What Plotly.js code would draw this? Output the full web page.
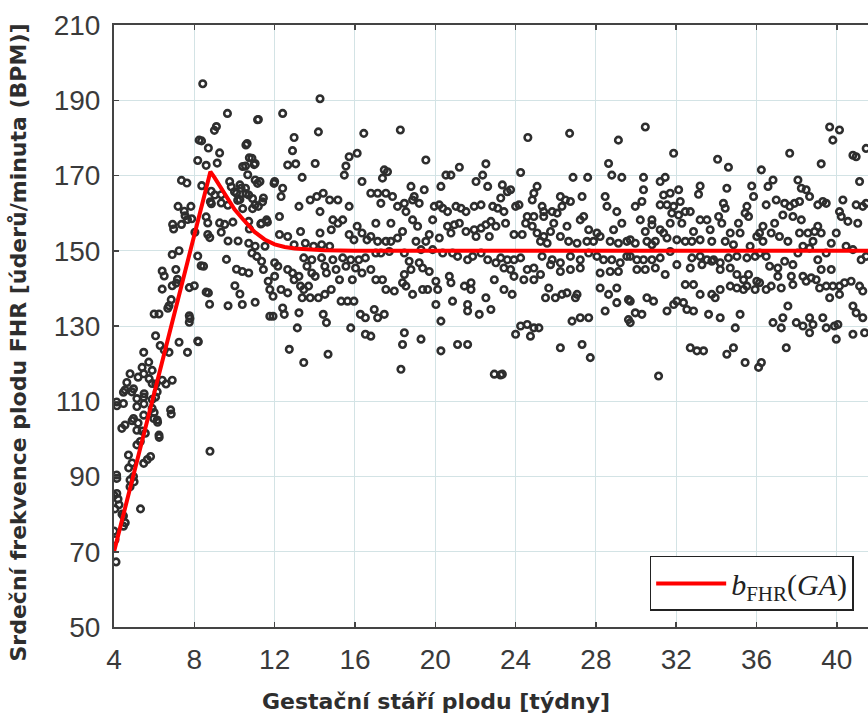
<!DOCTYPE html>
<html>
<head>
<meta charset="utf-8">
<script src="https://cdn.plot.ly/plotly-3.0.1.min.js"></script>
<style>html,body{margin:0;padding:0;background:#fff}#chart{width:868px;height:715px}</style>
</head>
<body>
<div id="chart"></div>
<script>
// [gestational age (weeks), FHR (bpm)] pairs
const ptsEarly = [
[8.42,194.4],[9.65,186.5],[9.10,183.0],[9.00,182.0],[8.24,179.4],[8.70,177.3],[9.26,176.0],[8.17,174.0],[8.59,172.7],[9.14,173.3],
[7.36,168.7],[7.63,168.0],[8.37,167.3],[8.84,165.8],[8.80,163.0],[9.34,164.9],[9.34,162.7],[7.19,161.8],[7.83,161.8],[7.50,160.5],
[6.92,157.0],[7.36,157.0],[7.66,158.3],[8.67,157.4],[8.59,159.0],[8.67,154.3],[9.26,157.4],[9.51,157.0],[9.68,152.6],[10.18,152.6],
[6.90,149.0],[7.24,150.0],[8.17,148.6],[8.34,146.0],[6.40,144.6],[6.50,143.3],[7.08,145.0],[7.16,142.4],[6.40,139.8],[6.90,140.7],
[7.75,140.2],[8.00,140.7],[8.59,139.0],[8.76,135.8],[9.68,135.4],[6.74,135.4],[6.00,133.2],[6.24,133.2],[7.75,132.7],[7.75,131.0],
[8.17,126.0],[7.66,123.0],[7.24,125.7],[6.07,127.4],[6.30,124.8],[6.74,123.0],[5.48,123.0],[5.73,120.4],[5.40,119.0],[5.90,118.2],
[5.48,117.3],[5.20,116.4],[4.80,117.3],[4.64,115.0],[4.55,113.0],[4.97,113.3],[4.89,112.5],[6.40,115.6],[6.90,115.6],[5.90,114.7],
[6.15,112.5],[6.07,111.1],[4.13,109.8],[4.47,109.4],[5.14,110.7],[5.48,111.1],[6.82,107.7],[5.14,108.6],[5.90,108.1],[5.48,106.3],
[5.98,105.4],[6.15,105.0],[4.97,105.4],[4.55,103.7],[4.39,102.8],[5.14,102.3],[5.56,101.5],[6.24,101.0],[5.31,99.3],[5.14,98.4],
[8.78,96.7],[4.72,95.7],[5.82,95.3],[5.48,93.5],[9.60,147.7],[10.10,145.1],[10.02,140.7],[10.27,138.5],[9.76,168.4],[10.27,167.5],
[10.10,165.3],[10.27,163.6],[7.10,141.4],[6.85,137.0],[6.68,134.7],[8.46,145.9],[8.70,138.8],[7.78,132.0],[8.20,125.8],[6.50,123.6],
[5.75,116.0],[6.59,114.6],[4.47,112.4],[5.50,112.0],[5.90,110.5],[6.08,114.6],[4.14,108.8],[5.49,109.3],[6.00,107.0],[6.85,106.6],
[4.90,104.8],[5.20,104.2],[5.40,102.1],[6.17,104.4],[6.25,100.4],[8.36,179.2],[9.84,167.0],[10.00,165.7],[10.33,166.6],[10.57,165.2],
[10.16,163.4],[9.02,164.8],[9.67,162.1],[8.85,162.5],[7.54,159.3],[7.87,158.5],[6.97,155.8],[8.03,154.9],[8.77,153.5],[9.34,154.9],
[9.92,157.6],[4.14,89.5],[4.90,93.6],[4.73,92.3],[5.66,94.5],[5.00,88.6],[4.80,87.3],[4.00,85.0],[4.14,85.5],[4.20,84.0],
[4.05,81.4],[4.47,79.5],[4.56,77.7],[4.47,76.8],[4.00,75.5],[4.05,73.2],[5.32,81.4],[4.10,67.3],[4.25,82.5],[4.40,80.0],
[4.13,90.4],[4.97,90.0],[4.80,89.1]
];
const ptsWeeks10to17 = [
[11.15,184.8],[10.57,178.1],[10.74,174.7],[10.98,172.9],[10.41,172.4],[10.66,170.2],[11.15,167.9],[11.97,167.9],[10.90,163.9],[11.40,163.0],
[10.90,161.2],[10.41,161.2],[10.74,155.8],[11.31,157.1],[11.64,157.6],
[14.26,190.4],[12.40,186.5],[11.19,184.9],[14.18,181.6],[12.97,180.1],[16.44,181.2],[10.63,178.5],[12.89,176.6],[10.87,174.6],[11.03,173.2],
[10.55,172.5],[12.65,172.8],[13.05,173.1],[14.02,173.2],[15.71,175.0],[16.11,175.9],[15.55,172.5],[15.47,170.1],[13.37,169.5],[12.00,168.4],
[12.40,166.6],[11.03,168.8],[11.27,168.4],[10.55,166.6],[10.71,164.8],[12.32,164.4],[11.44,164.0],[11.03,162.2],[11.19,161.8],[16.35,168.4],
[13.77,163.5],[14.10,164.4],[14.42,165.3],[14.74,163.5],[15.15,163.5],[13.21,161.8],[14.26,160.4],[15.71,161.8],[12.24,159.1],[11.35,157.3],
[11.60,158.2],[10.71,157.8],[14.90,158.2],[15.15,157.3],[15.39,158.2],[14.82,155.6],[13.29,155.1],[12.24,154.3],[12.65,153.8],[14.26,154.7],
[16.11,156.5],[16.35,154.7],[15.71,154.3],[15.95,152.9],[16.60,152.9],[10.71,152.0],[11.03,151.2],[11.52,151.2],[12.97,151.6],[13.53,152.0],
[13.94,151.2],[14.34,151.6],[14.74,151.2],[13.45,148.1],[13.85,147.6],[14.34,148.1],[14.90,147.6],[15.39,148.1],[15.79,147.6],[16.19,147.6],
[16.52,148.1],[11.35,147.2],[11.11,148.5],[10.87,149.4],[10.71,144.1],[10.39,144.5],[11.44,145.0],[12.00,146.8],[12.16,145.9],[12.65,145.0],
[12.89,144.1],[13.21,143.2],[12.00,143.2],[11.68,141.9],[13.61,145.9],[13.85,144.1],[14.02,143.2],[14.58,144.1],[15.06,145.0],[15.55,145.9],
[16.03,145.4],[16.35,144.1],[15.23,142.3],[15.87,142.3],[14.50,145.9],[11.76,139.7],[11.92,137.9],[12.32,139.7],[12.65,138.8],[12.97,142.3],
[13.29,140.6],[13.45,139.7],[13.69,140.6],[13.37,137.5],[13.77,137.5],[14.18,137.5],[14.50,138.4],[14.82,139.7],[15.31,136.6],[15.63,136.6],
[15.95,136.6],[10.39,135.7],[11.03,136.3],[12.40,134.8],[12.48,133.1],[11.76,132.6],[11.92,132.6],[13.21,133.5],[14.42,133.1],[14.58,130.9],
[16.27,133.1],[16.52,132.2],[13.13,129.5],[15.79,129.5],[16.52,127.8],[12.73,123.8],[13.45,120.3],[14.66,122.5]
];
const ptsWeeks17to23 = [
[18.26,182.1],[19.53,174.1],[21.20,172.2],[22.52,173.1],[17.46,171.5],[17.62,171.0],[17.37,169.3],[20.53,170.1],[20.78,170.1],[22.03,168.4],
[22.36,170.1],[22.61,167.1],[16.79,165.3],[17.13,165.3],[17.54,165.3],[17.87,164.4],[17.29,162.6],[18.79,167.1],[19.45,166.2],[20.28,167.1],
[18.95,164.4],[18.87,163.5],[19.20,162.6],[18.46,162.6],[18.12,161.8],[18.54,160.4],[19.95,161.8],[20.20,162.2],[20.37,161.3],[20.61,160.4],
[21.03,161.8],[21.28,161.3],[21.53,160.4],[21.94,161.8],[22.28,162.2],[22.86,161.8],[23.11,161.3],[17.04,157.3],[17.79,157.3],[18.37,155.1],
[18.87,158.2],[19.12,156.5],[19.87,158.2],[20.61,156.5],[20.95,156.9],[21.20,157.3],[21.53,155.1],[21.94,155.6],[22.28,156.0],[22.52,156.9],
[23.02,156.5],[22.77,157.8],[16.79,153.8],[17.13,152.5],[17.54,152.5],[17.79,152.5],[18.12,153.4],[19.04,152.5],[19.53,152.5],[19.70,154.3],
[20.20,153.4],[20.78,154.7],[22.03,153.8],[22.69,153.8],[17.04,149.4],[17.29,149.4],[17.71,149.8],[18.46,149.4],[19.29,150.3],[19.87,150.3],
[20.37,149.4],[20.86,149.4],[21.11,148.5],[21.61,147.6],[21.86,148.5],[22.28,149.4],[22.61,147.6],[23.02,146.8],[18.70,147.2],[19.20,146.8],
[19.37,145.4],[19.70,144.5],[18.79,145.0],[18.46,143.7],[16.79,145.0],[17.04,142.3],[17.37,142.3],[17.54,139.7],[17.96,139.3],[18.37,141.5],
[18.54,140.6],[19.37,139.7],[19.62,139.7],[20.03,141.9],[20.12,139.7],[20.78,141.5],[20.70,143.2],[21.45,140.6],[21.78,139.7],[21.78,141.5],
[18.87,138.4],[20.03,135.7],[20.86,136.6],[21.61,135.7],[21.61,134.0],[22.19,133.1],[22.52,137.5],[22.77,134.4],[22.94,142.3],[16.96,134.4],
[17.13,132.2],[17.46,133.1],[20.28,131.3],[16.79,127.3],[18.46,128.2],[18.37,125.1],[19.29,126.5],[20.28,123.4],[21.11,125.1],[21.61,125.1],
[18.29,118.5],[22.94,117.2],[23.25,117.0]
];
const ptsWeeks23to30 = [
[24.61,180.1],[26.69,181.2],[29.12,179.4],[24.25,170.8],[28.63,173.2],[28.79,170.1],[29.29,169.5],[26.86,169.5],[27.59,169.5],[23.34,167.5],
[23.59,165.7],[23.75,166.2],[23.26,164.0],[25.07,167.1],[24.91,165.3],[24.83,163.5],[24.00,161.8],[24.17,162.2],[25.32,161.8],[26.23,164.4],
[26.48,163.5],[26.73,163.1],[27.31,164.4],[28.46,164.4],[28.55,161.8],[29.04,160.4],[23.42,160.4],[24.58,159.1],[24.91,159.1],[25.40,160.4],
[25.82,160.4],[26.07,160.0],[26.31,161.8],[23.50,157.3],[24.50,157.3],[24.83,156.5],[25.40,159.1],[25.90,157.3],[26.56,156.5],[27.22,158.2],
[27.39,159.1],[27.64,155.6],[28.05,154.7],[28.21,153.8],[28.88,155.6],[29.29,157.3],[23.92,154.3],[24.33,154.3],[25.07,154.7],[25.40,153.8],
[25.74,155.1],[26.23,153.8],[25.24,152.5],[25.57,152.0],[26.64,152.5],[27.06,152.0],[27.55,152.5],[27.88,152.5],[28.71,152.5],[29.12,152.0],
[29.54,152.5],[23.26,148.1],[23.59,147.6],[23.92,147.6],[24.25,148.1],[24.58,145.0],[24.91,145.4],[23.75,145.0],[23.42,145.4],[25.32,148.5],
[25.82,147.6],[26.23,146.8],[26.73,148.5],[27.22,147.6],[27.64,149.4],[28.05,148.5],[28.38,147.6],[28.79,147.6],[29.21,146.8],[29.54,148.5],
[23.92,143.2],[24.41,142.3],[24.91,142.3],[25.24,143.7],[25.74,146.3],[26.23,144.5],[26.73,145.0],[27.22,145.4],[28.21,144.1],[28.71,144.5],
[29.12,144.5],[23.42,139.7],[23.83,138.4],[25.49,137.5],[25.65,140.1],[25.98,137.5],[26.31,138.4],[26.56,138.8],[27.06,138.4],[26.98,137.5],
[28.21,140.1],[28.63,138.4],[29.04,140.1],[29.04,136.2],[29.62,137.0],[28.46,134.0],[26.81,131.3],[27.22,132.2],[27.64,132.2],[24.25,130.0],
[24.58,130.4],[24.91,129.5],[25.16,129.5],[24.00,127.8],[24.74,127.3],[26.23,124.2],[27.31,125.1],[27.72,121.6],[23.34,117.2],[29.62,131.7]
];
const ptsWeeks30to36 = [
[30.46,182.9],[31.87,175.9],[34.06,174.3],[34.60,172.2],[30.37,169.5],[31.45,169.5],[31.20,168.4],[30.37,166.2],[32.12,166.2],[33.19,167.2],
[33.11,165.0],[34.52,166.6],[35.76,167.2],[35.85,164.4],[29.96,161.8],[30.29,163.1],[31.20,162.2],[31.54,162.2],[31.37,164.8],[31.70,165.3],
[31.87,161.8],[32.20,163.1],[31.78,160.0],[32.12,159.5],[32.45,160.4],[32.70,160.4],[31.70,157.3],[32.28,157.3],[30.21,158.2],[30.79,158.2],
[30.79,156.9],[34.35,162.6],[34.44,161.3],[35.52,161.8],[35.60,159.1],[35.43,160.0],[30.46,155.1],[31.20,155.6],[31.37,154.7],[31.54,153.4],
[32.03,152.9],[32.45,152.5],[32.86,155.1],[33.19,158.2],[33.53,158.2],[33.69,155.6],[34.11,159.1],[34.27,157.3],[35.10,157.3],[34.69,154.7],
[35.18,154.7],[36.01,153.8],[29.71,152.9],[29.96,152.0],[30.54,152.5],[30.79,151.6],[30.96,152.5],[31.70,149.8],[32.78,152.5],[33.19,152.9],
[33.77,152.5],[34.44,152.5],[34.85,151.6],[35.68,151.2],[29.71,148.5],[30.04,147.6],[30.37,147.6],[30.79,147.6],[31.20,148.1],[30.04,145.0],
[30.46,145.0],[30.96,145.4],[31.45,143.7],[32.03,146.3],[32.78,148.1],[33.19,148.5],[33.53,147.6],[33.86,147.6],[34.19,146.8],[34.60,148.1],
[35.02,148.5],[35.52,148.1],[35.93,148.5],[32.70,145.4],[33.28,146.3],[33.77,147.2],[34.19,145.0],[34.69,145.4],[35.02,143.7],[35.35,142.3],
[35.60,143.7],[34.19,139.7],[34.69,140.6],[35.02,140.1],[35.35,139.7],[35.52,140.6],[35.93,139.7],[36.01,141.9],[32.45,141.0],[32.86,141.0],
[33.19,138.4],[33.77,138.4],[33.94,137.5],[32.03,136.6],[31.87,135.7],[32.36,136.2],[32.53,134.4],[32.86,134.0],[29.71,136.6],[30.54,137.5],
[30.87,136.6],[31.54,134.0],[29.96,133.5],[30.29,133.1],[29.71,130.9],[33.61,133.1],[34.19,132.2],[35.18,133.1],[34.94,129.5],[32.70,124.2],
[33.03,123.4],[33.36,123.4],[34.52,122.5],[34.85,124.2],[35.43,120.3],[36.10,119.0],[31.12,116.7]
];
const ptsWeeks36to42 = [
[39.64,182.9],[40.13,182.1],[39.80,179.4],[37.65,175.9],[39.22,173.1],[40.96,175.0],[40.80,175.4],[41.46,177.2],[36.24,171.5],[36.57,167.1],
[36.82,168.8],[38.06,168.8],[38.23,166.6],[38.47,166.2],[38.64,164.4],[41.13,168.4],[36.48,162.2],[36.98,163.5],[37.40,162.6],[37.65,161.8],
[37.89,162.6],[38.14,163.1],[39.05,162.2],[39.30,163.1],[39.47,162.6],[40.30,163.5],[40.96,162.2],[41.29,161.8],[37.31,159.5],[37.81,159.1],
[38.23,158.2],[36.90,157.3],[36.32,156.5],[36.15,154.7],[36.32,152.5],[40.13,160.4],[40.22,159.1],[40.55,157.8],[41.04,157.3],[41.46,162.6],
[36.73,154.7],[37.14,153.8],[37.56,152.5],[38.14,154.7],[38.56,154.7],[38.89,155.1],[39.05,156.5],[38.81,152.5],[39.22,154.7],[39.97,154.7],
[39.72,152.0],[36.15,149.4],[36.48,148.5],[36.65,145.9],[37.06,145.4],[37.40,147.2],[37.81,146.3],[38.06,149.4],[38.31,151.2],[38.64,150.7],
[39.47,149.4],[40.46,151.2],[40.80,150.3],[41.21,147.6],[41.46,148.5],[39.05,147.6],[39.22,145.0],[39.72,145.0],[36.15,141.5],[36.48,139.7],
[36.73,140.6],[37.06,143.2],[37.23,140.1],[37.73,143.2],[37.81,141.0],[38.31,143.2],[38.47,141.9],[38.72,142.8],[38.97,142.3],[39.14,140.1],
[39.47,140.6],[39.64,137.5],[39.80,140.6],[40.13,140.6],[40.38,141.5],[40.71,141.9],[41.13,140.6],[41.29,139.3],[40.13,138.4],[37.56,135.3],
[40.80,135.3],[40.96,133.5],[41.29,132.2],[36.82,130.9],[37.31,132.2],[37.23,129.5],[37.98,130.9],[38.31,130.0],[38.64,132.2],[38.81,130.4],
[38.64,128.2],[39.30,132.2],[39.47,129.5],[39.88,130.0],[40.05,130.4],[39.97,126.5],[40.80,127.8],[41.38,128.2],[37.48,124.2],[36.24,120.3]
];
// fitted baseline b_FHR(GA)
const curveGA  = [4, 5, 6, 7, 8, 8.8, 9.0, 9.5, 10.0, 10.4, 11.0, 11.5, 12.0, 12.5, 13.0, 13.6, 14.5, 16, 20, 30, 42];
const curveFHR = [70, 91, 112, 133, 154, 171, 169.5, 165, 161, 158.5, 155, 153, 151.7, 151, 150.6, 150.4, 150.1, 150, 150, 150, 150];
const xTicks = [4, 8, 12, 16, 20, 24, 28, 32, 36, 40];
const yTicks = [50, 70, 90, 110, 130, 150, 170, 190, 210];
const xTitle = 'Gestační stáří plodu [týdny]';
const yTitle = 'Srdeční frekvence plodu FHR [úderů/minuta (BPM)]';

const allPts = [].concat(ptsEarly, ptsWeeks10to17, ptsWeeks17to23, ptsWeeks23to30, ptsWeeks30to36, ptsWeeks36to42);

const scatter = {
  type: 'scatter', mode: 'markers', showlegend: false, hoverinfo: 'skip',
  x: allPts.map(p => p[0]), y: allPts.map(p => p[1]),
  marker: {symbol: 'circle-open', size: 6.5, color: '#2e2e2e', line: {width: 2.6, color: '#2e2e2e'}}
};
const curve = {
  type: 'scatter', mode: 'lines', name: '<i>b</i><sub>FHR</sub>(<i>GA</i>)',
  x: curveGA, y: curveFHR, line: {color: '#ff0000', width: 4}
};
const tickFont = {family: 'Liberation Sans, Arial, sans-serif', size: 28, color: '#3a3a3a'};
const titleFont = {family: 'DejaVu Sans, sans-serif', size: 22, color: '#2e2e2e', weight: 'bold'};
const layout = {
  width: 868, height: 715,
  margin: {l: 114, r: 0, t: 25, b: 88},
  paper_bgcolor: '#fff', plot_bgcolor: '#fff',
  xaxis: {
    range: [4, 41.55], tickvals: xTicks, ticktext: xTicks.map(String),
    showgrid: true, gridcolor: '#d3e3e5', gridwidth: 1, zeroline: false,
    showline: true, linecolor: '#444', linewidth: 2, mirror: 'ticks',
    ticks: 'inside', ticklen: 5, tickcolor: '#444', tickwidth: 1.5,
    tickfont: tickFont, ticklabelstandoff: 6
  },
  yaxis: {
    range: [50, 210], tickvals: yTicks, ticktext: yTicks.map(String),
    showgrid: true, gridcolor: '#d3e3e5', gridwidth: 1, zeroline: false,
    showline: true, linecolor: '#444', linewidth: 2, mirror: false,
    ticks: 'inside', ticklen: 5, tickcolor: '#444', tickwidth: 1.5,
    tickfont: tickFont, ticklabelstandoff: 6
  },
  annotations: [
    {text: xTitle, xref: 'paper', yref: 'paper', x: 0.427, y: -0.123, xanchor: 'center', yanchor: 'middle',
     showarrow: false, font: titleFont},
    {text: yTitle, xref: 'paper', yref: 'paper', x: -0.127, y: 0.473, xanchor: 'center', yanchor: 'middle',
     textangle: -90, showarrow: false, font: titleFont}
  ],
  legend: {
    x: 0.981, y: 0.118, xanchor: 'right', yanchor: 'top',
    bgcolor: '#fff', bordercolor: '#222', borderwidth: 1.5,
    font: {family: 'Liberation Serif, DejaVu Serif, serif', size: 30, color: '#222'},
    itemwidth: 70
  }
};
Plotly.newPlot('chart', [scatter, curve], layout, {staticPlot: true, displayModeBar: false});
</script>
</body>
</html>
